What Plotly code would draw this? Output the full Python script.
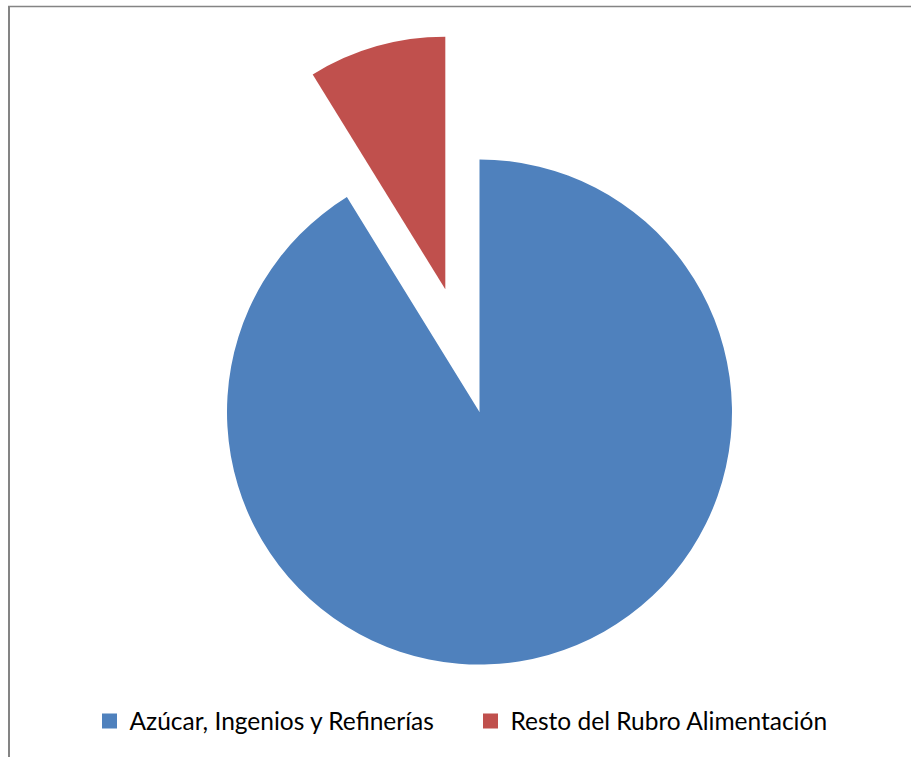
import plotly.graph_objects as go

# Data
labels = ["Azúcar, Ingenios y Refinerías", "Resto del Rubro Alimentación"]
values = [91.2, 8.8]
colors = ["#4F81BD", "#C0504D"]

W, H = 911, 757
R = 252.5
blue_center = (479.5, 412.0)   # pixel centre of the main pie
red_center = (445.3, 289.3)    # pixel centre of the exploded slice


def domain_for(cx, cy, r):
    return dict(
        x=[(cx - r) / W, (cx + r) / W],
        y=[(H - (cy + r)) / H, (H - (cy - r)) / H],
    )


clear = "rgba(0,0,0,0)"
fig = go.Figure()

# Main pie: only the large slice visible
fig.add_trace(go.Pie(
    labels=labels, values=values, sort=False, direction="clockwise",
    marker=dict(colors=[colors[0], clear], line=dict(width=0)),
    textinfo="none", showlegend=False, hoverinfo="label+percent",
    domain=domain_for(*blue_center, R),
))
# Exploded slice, drawn from the same values
fig.add_trace(go.Pie(
    labels=labels, values=values, sort=False, direction="clockwise",
    marker=dict(colors=[clear, colors[1]], line=dict(width=0)),
    textinfo="none", showlegend=False, hoverinfo="label+percent",
    domain=domain_for(*red_center, R),
))

# Legend entries
for lab, col in zip(labels, colors):
    fig.add_trace(go.Scatter(
        x=[None], y=[None], mode="markers", name=lab,
        marker=dict(symbol="square", size=15, color=col),
        showlegend=True,
    ))

fig.update_layout(
    width=W, height=H,
    margin=dict(l=0, r=0, t=0, b=0),
    paper_bgcolor="white", plot_bgcolor="white",
    xaxis=dict(visible=False), yaxis=dict(visible=False),
    font=dict(family="Lato", size=24.5, color="#000000"),
    legend=dict(
        orientation="h", x=89.5 / W, xanchor="left", y=(H - 721) / H, yanchor="middle",
        bgcolor="rgba(0,0,0,0)", font=dict(family="Lato", size=24.5, color="#000000"),
        itemwidth=30, entrywidth=336,
    ),
    shapes=[
        dict(type="line", xref="paper", yref="paper", x0=9 / W, x1=9 / W, y0=0, y1=(H - 6) / H,
             line=dict(color="#848484", width=2)),
        dict(type="line", xref="paper", yref="paper", x0=8 / W, x1=1, y0=(H - 6.5) / H, y1=(H - 6.5) / H,
             line=dict(color="#848484", width=1.5)),
    ],
)

fig.write_html("out.html", config={"displayModeBar": False},
               post_script="document.body.style.margin='0';")
